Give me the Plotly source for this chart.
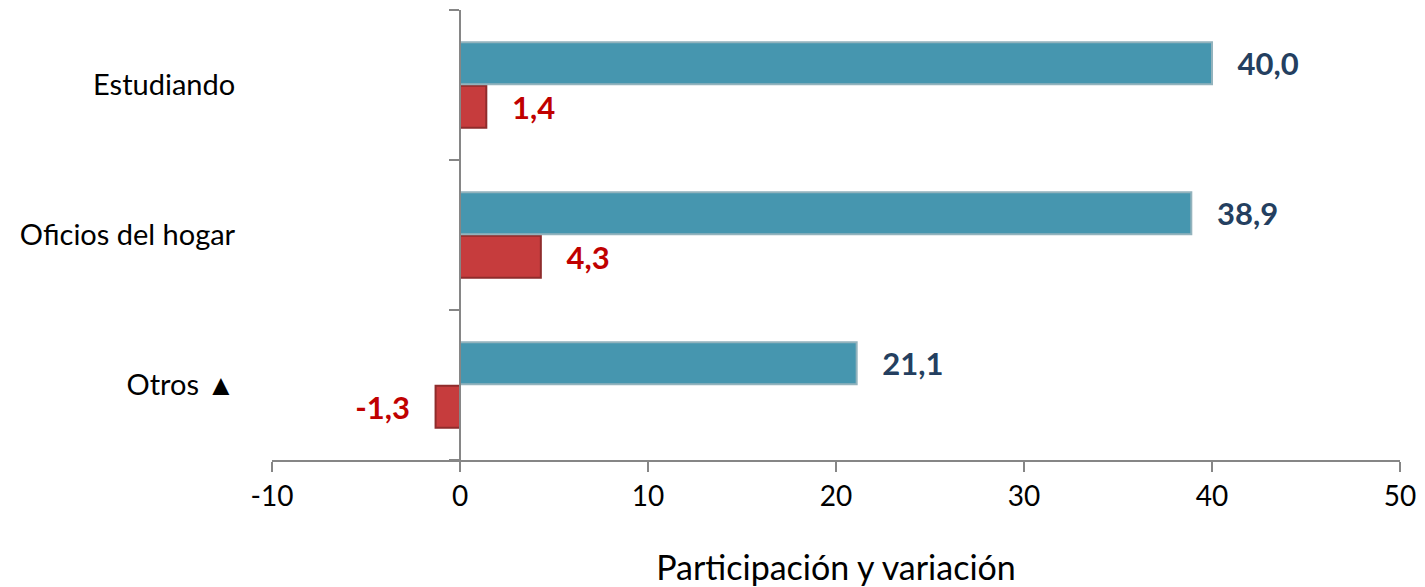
import plotly.graph_objects as go

categories = ["Estudiando", "Oficios del hogar", "Otros \u25B2"]
participacion = [40.0, 38.9, 21.1]
variacion = [1.4, 4.3, -1.3]
x_ticks = [-10, 0, 10, 20, 30, 40, 50]

NB = "\u00a0"

def fmt(v):
    return f"{v:.1f}".replace(".", ",")

red_text = [(NB * 3 + fmt(v)) if v >= 0 else (fmt(v) + NB * 3) for v in variacion]
blue_text = [NB * 3 + fmt(v) for v in participacion]

fig = go.Figure()
fig.add_trace(go.Bar(
    y=categories, x=variacion, orientation="h",
    marker=dict(color="#C63C3D", line=dict(color="#8F2C2C", width=2)),
    text=red_text, textposition="outside", constraintext="none", cliponaxis=False,
    textfont=dict(family="Lato", size=31, color="#C00000", weight="bold"),
    showlegend=False,
))
fig.add_trace(go.Bar(
    y=categories, x=participacion, orientation="h",
    marker=dict(color="#4696AF", line=dict(color="#93B3BD", width=2)),
    text=blue_text, textposition="outside", constraintext="none", cliponaxis=False,
    textfont=dict(family="Lato", size=31, color="#243F60", weight="bold"),
    showlegend=False,
))

fig.update_layout(
    width=1417, height=579,
    margin=dict(l=264, r=25, t=2, b=127),
    plot_bgcolor="white", paper_bgcolor="white",
    barmode="group", bargap=0.42, bargroupgap=0.04,
    font=dict(family="Lato", color="#000000"),
    xaxis=dict(
        range=[-10, 50], tickvals=x_ticks, ticktext=[str(t) for t in x_ticks],
        showgrid=False, zeroline=False,
        showline=True, linecolor="#868686", linewidth=2,
        ticks="outside", ticklen=10, tickcolor="#868686", tickwidth=2,
        tickfont=dict(size=28, family="Lato"),
        title=dict(text="Participaci\u00f3n y variaci\u00f3n", font=dict(size=34, family="Lato"), standoff=48),
    ),
    yaxis=dict(
        categoryorder="array", categoryarray=categories[::-1],
        anchor="free", position=1/6,
        showgrid=False, zeroline=False,
        showline=True, linecolor="#868686", linewidth=2,
        ticks="outside", ticklen=10, tickcolor="#868686", tickwidth=2,
        tickson="boundaries",
        tickfont=dict(size=29, family="Lato"),
        ticklabelstandoff=218,
    ),
)

fig.write_html("out.html")
